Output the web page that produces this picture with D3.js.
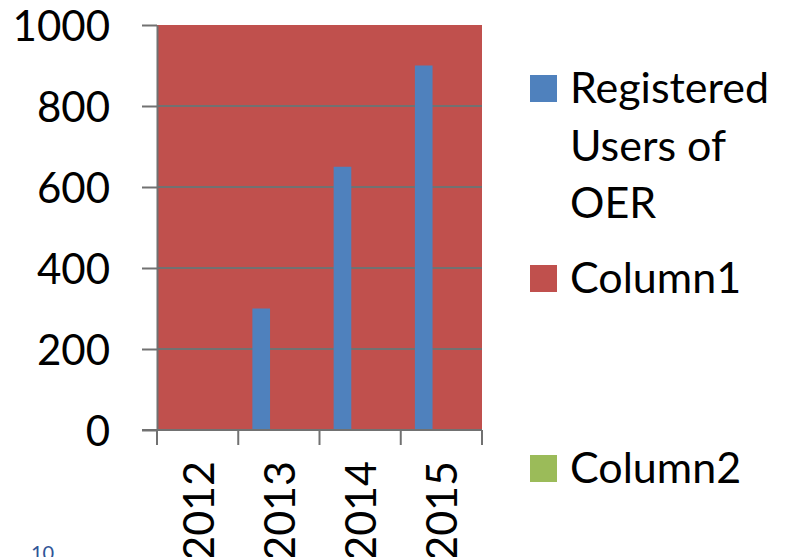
<!DOCTYPE html>
<html>
<head>
<meta charset="utf-8">
<script src="https://cdn.jsdelivr.net/npm/d3@7"></script>
<style>
    body { margin: 0; background: #fff; }
    text { font-family: Lato, "Open Sans", sans-serif; }
</style>
</head>
<body>
<div id="chart"></div>
<script>
// chart data
const categories = ['2012', '2013', '2014', '2015'];
const seriesNames = ['Registered Users of OER', 'Column1', 'Column2'];
const registeredUsers = [0, 300, 650, 900];
const yTicks = [0, 200, 400, 600, 800, 1000];
const legendLines = [['Registered', 'Users of', 'OER'], ['Column1'], ['Column2']];

const colors = ['#4f81bd', '#c0504d', '#9bbb59'];
const gridColor = '#717171';
const fontSize = '43px';

const svgWidth = 786, svgHeight = 557;
const margin = {top: 25, left: 157, right: 304, bottom: 127};
const width = svgWidth - margin.left - margin.right;
const height = svgHeight - margin.top - margin.bottom;

const svg = d3.select('#chart').append('svg')
    .attr('width', svgWidth)
    .attr('height', svgHeight);

const g = svg.append('g').attr('transform', `translate(${margin.left},${margin.top})`);

const xScale = d3.scaleBand().domain(categories).range([0, width]).padding(0);
// clustered slots inside each category (3 series, wide gap)
const seriesScale = d3.scaleBand().domain(seriesNames).range([0, xScale.bandwidth()])
    .paddingInner(0).paddingOuter(0.8);
const yScale = d3.scaleLinear().domain([0, 1000]).range([height, 0]);

// plot area fill
g.append('rect')
    .attr('x', 0).attr('y', yScale(1000))
    .attr('width', width).attr('height', yScale(0) - yScale(1000))
    .attr('fill', colors[1]);

// gridlines
g.selectAll('.grid').data(yTicks.filter(d => d > 0 && d < 1000))
    .enter().append('line')
    .attr('class', 'grid')
    .attr('x1', 0).attr('x2', width)
    .attr('y1', d => yScale(d)).attr('y2', d => yScale(d))
    .attr('stroke', gridColor).attr('stroke-width', 2);

// bars
g.selectAll('.bar').data(categories.map((c, i) => ({cat: c, value: registeredUsers[i]})))
    .enter().append('rect')
    .attr('class', 'bar')
    .attr('x', d => xScale(d.cat) + seriesScale(seriesNames[0]))
    .attr('y', d => yScale(d.value))
    .attr('width', seriesScale.bandwidth())
    .attr('height', d => yScale(0) - yScale(d.value))
    .attr('fill', colors[0]);

// y axis
const yAxis = d3.axisLeft(yScale).tickValues(yTicks).tickFormat(d3.format('d'))
    .tickSize(15).tickSizeOuter(0).tickPadding(32);
const yAxisG = g.append('g').call(yAxis);
yAxisG.select('.domain').attr('stroke', gridColor).attr('stroke-width', 2);
yAxisG.selectAll('.tick line').attr('stroke', gridColor).attr('stroke-width', 2);
yAxisG.selectAll('.tick text')
    .attr('dy', '0.37em')
    .attr('fill', '#000').style('font-size', '42px');

// x axis line and ticks at category boundaries
const xAxisG = g.append('g').attr('transform', `translate(0,${height})`);
xAxisG.append('line')
    .attr('x1', -15).attr('x2', width)
    .attr('stroke', gridColor).attr('stroke-width', 2);
const boundaries = categories.map(c => xScale(c)).concat([width]);
xAxisG.selectAll('.xtick').data(boundaries)
    .enter().append('line')
    .attr('class', 'xtick')
    .attr('x1', d => d).attr('x2', d => d)
    .attr('y1', 0).attr('y2', 15)
    .attr('stroke', gridColor).attr('stroke-width', 2);
xAxisG.selectAll('.xlabel').data(categories)
    .enter().append('text')
    .attr('class', 'xlabel')
    .attr('transform', d => `translate(${xScale(d) + xScale.bandwidth() / 2 + 16},31) rotate(-90)`)
    .attr('text-anchor', 'end')
    .style('font-size', fontSize)
    .attr('fill', '#000')
    .text(d => d);

// legend
const legendY = [75, 265, 455];
const legend = svg.append('g');
legendLines.forEach((lines, i) => {
    legend.append('rect')
        .attr('x', 530).attr('y', legendY[i])
        .attr('width', 27).attr('height', 27)
        .attr('fill', colors[i]);
    lines.forEach((t, j) => {
        legend.append('text')
            .attr('x', 570).attr('y', legendY[i] + 28 + j * 57.5)
            .style('font-size', fontSize)
            .attr('fill', '#000')
            .text(t);
    });
});

// slide number
svg.append('text')
    .attr('x', 31).attr('y', 560)
    .style('font-size', '20px')
    .attr('fill', '#2f5597')
    .text('10');
</script>
</body>
</html>
